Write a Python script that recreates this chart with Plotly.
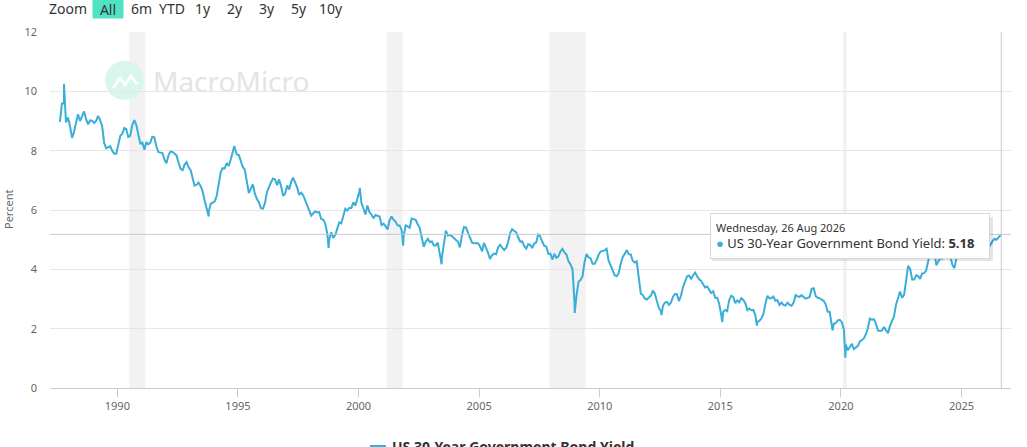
import pandas as pd
import plotly.graph_objects as go

series_name = 'US 30-Year Government Bond Yield'
line_color = '#3aaed8'

# monthly yields (%), mid-month, starting Aug 1987
yields_1980s = [8.97, 9.59, 9.61, 8.95, 9.12,
                8.83, 8.43, 8.63, 8.95, 9.23, 9.00, 9.14, 9.32, 9.06, 8.89, 9.02, 9.01,
                8.93, 9.01, 9.17, 9.03, 8.83, 8.27, 8.08, 8.12, 8.15, 8.00, 7.90, 7.90]
yields_1990s = [8.26, 8.50, 8.56, 8.76, 8.73, 8.46, 8.50, 8.86, 9.03, 8.86, 8.54, 8.24,
                8.27, 8.03, 8.29, 8.21, 8.27, 8.47, 8.45, 8.14, 7.95, 7.93, 7.92, 7.70,
                7.58, 7.85, 7.97, 7.96, 7.89, 7.84, 7.60, 7.39, 7.34, 7.53, 7.61, 7.44,
                7.34, 7.09, 6.82, 6.85, 6.92, 6.81, 6.63, 6.32, 6.00, 5.94, 6.21, 6.25,
                6.29, 6.49, 6.91, 7.27, 7.41, 7.40, 7.58, 7.49, 7.71, 7.94, 8.08, 7.87,
                7.85, 7.61, 7.45, 7.36, 6.95, 6.57, 6.72, 6.86, 6.55, 6.37, 6.26, 6.06,
                6.05, 6.24, 6.60, 6.79, 6.93, 7.06, 7.03, 6.84, 7.03, 6.81, 6.48, 6.55,
                6.83, 6.69, 6.93, 7.09, 6.94, 6.77, 6.51, 6.58, 6.50, 6.33, 6.11, 5.99,
                5.81, 5.89, 5.95, 5.92, 5.93, 5.70, 5.68, 5.54, 5.20, 5.01, 5.25, 5.06,
                5.16, 5.37, 5.58, 5.55, 5.81, 6.04, 5.98, 6.07, 6.07, 6.26, 6.15, 6.35]
yields_2000s = [6.63, 6.23, 6.05, 5.85, 6.15, 5.93, 5.85, 5.72, 5.83, 5.80, 5.78, 5.49,
                5.54, 5.45, 5.34, 5.65, 5.78, 5.67, 5.61, 5.48, 5.48, 5.32, 5.12, 5.48,
                5.45, 5.40, 5.71, 5.68, 5.67, 5.52, 5.40, 5.08, 4.76, 4.93, 5.03, 4.92,
                4.94, 4.81, 4.80, 4.90, 4.53, 4.37, 4.93, 5.30, 5.14, 5.16, 5.12, 5.07,
                4.99, 4.93, 4.74, 5.14, 5.42, 5.41, 5.22, 5.06, 4.90, 4.88, 4.89, 4.88,
                4.77, 4.61, 4.89, 4.75, 4.56, 4.35, 4.48, 4.53, 4.51, 4.74, 4.83, 4.73,
                4.65, 4.73, 4.91, 5.22, 5.35, 5.29, 5.25, 5.08, 4.93, 4.94, 4.78, 4.70,
                4.85, 4.82, 4.72, 4.87, 4.90, 5.20, 5.11, 4.93, 4.79, 4.77, 4.52, 4.53,
                4.33, 4.52, 4.39, 4.44, 4.60, 4.69, 4.57, 4.50, 4.27, 4.17, 4.00, 2.87,
                3.13, 3.59, 3.64, 3.76, 4.23, 4.52, 4.41, 4.37, 4.19, 4.19, 4.31, 4.49]
yields_2010s = [4.60, 4.62, 4.64, 4.69, 4.29, 4.13, 3.99, 3.80, 3.77, 3.87, 4.19, 4.42,
                4.52, 4.65, 4.51, 4.50, 4.29, 4.23, 4.27, 3.65, 3.18, 3.13, 3.02, 2.98,
                3.03, 3.11, 3.28, 3.18, 2.93, 2.70, 2.59, 2.77, 2.88, 2.90, 2.80, 2.88,
                3.08, 3.17, 3.16, 2.93, 3.11, 3.40, 3.61, 3.76, 3.79, 3.68, 3.80, 3.89,
                3.77, 3.66, 3.62, 3.52, 3.39, 3.42, 3.33, 3.20, 3.26, 3.04, 3.04, 2.83,
                2.46, 2.57, 2.63, 2.59, 2.96, 3.11, 3.07, 2.86, 2.95, 2.89, 3.03, 2.97,
                2.86, 2.62, 2.68, 2.62, 2.63, 2.45, 2.23, 2.26, 2.35, 2.50, 2.86, 3.11,
                3.02, 3.03, 3.08, 2.94, 2.96, 2.80, 2.88, 2.80, 2.78, 2.88, 2.80, 2.77,
                2.88, 3.13, 3.09, 3.07, 3.13, 3.05, 3.01, 3.04, 3.07, 3.34, 3.36, 3.10,
                3.04, 3.02, 2.98, 2.94, 2.82, 2.57, 2.57, 2.12, 2.16, 2.19, 2.28, 2.30]
yields_2020s = [2.22, 1.97, 1.46, 1.27, 1.38, 1.49, 1.31, 1.36, 1.42, 1.57, 1.62, 1.67,
                1.82, 2.04, 2.34, 2.30, 2.32, 2.16, 1.94, 1.92, 1.94, 2.06, 1.94, 1.85,
                2.10, 2.25, 2.41, 2.81, 3.07, 3.25, 3.04, 3.14, 3.63, 4.12, 4.01, 3.66,
                3.66, 3.80, 3.77, 3.68, 3.86, 3.87, 3.96, 4.28, 4.47, 4.95, 4.66, 4.14,
                4.26, 4.38, 4.36, 4.66, 4.62, 4.44, 4.46, 4.15, 4.04, 4.38, 4.54, 4.58,
                4.85, 4.68, 4.60, 4.77, 4.94, 4.89, 4.93, 4.89, 4.70, 4.62, 4.66, 4.80,
                4.85, 4.72, 4.84, 4.95, 5.03, 5.00, 5.08]

# daily highs / lows
spike_dates = ['1987-10-16', '1993-10-15', '1994-11-07', '1998-10-05', '2000-01-20',
               '2001-11-07', '2003-06-13', '2008-12-18', '2012-07-24', '2015-01-30',
               '2016-07-08', '2019-08-28', '2020-03-09', '2023-10-19', '2026-08-26']
spike_values = [10.25, 5.78, 8.16, 4.72, 6.75,
                4.80, 4.17, 2.53, 2.46, 2.22,
                2.10, 1.94, 1.02, 5.10, 5.18]

recession_start = ['1990-07-01', '2001-03-01', '2007-12-01', '2020-02-01']
recession_end = ['1991-03-01', '2001-11-01', '2009-06-01', '2020-04-01']

zoom_labels = ['6m', 'YTD', '1y', '2y', '3y', '5y', '10y']
last_date = '2026-08-26'
last_value = 5.18

monthly = yields_1980s + yields_1990s + yields_2000s + yields_2010s + yields_2020s
mdates = pd.date_range('1987-08-01', periods=len(monthly), freq='MS') + pd.Timedelta(days=14)
df = pd.concat([pd.DataFrame({'date': mdates, 'y': monthly}),
                pd.DataFrame({'date': pd.to_datetime(spike_dates), 'y': spike_values})])
df = df.sort_values('date')

FONT = 'Noto Sans, Open Sans, sans-serif'
L, R, T, B = 50, 16, 32, 59
W, H = 1027, 447
pw, ph = W - L - R, H - T - B


def px(x):
    return (x - L) / pw


def py(y):
    return (H - B - y) / ph


fig = go.Figure()
fig.add_trace(go.Scatter(x=df['date'], y=df['y'], mode='lines', name=series_name,
                         line=dict(color=line_color, width=2), showlegend=False))

shapes = []
for s, e in zip(recession_start, recession_end):
    shapes.append(dict(type='rect', xref='x', yref='paper', x0=s, x1=e, y0=0, y1=1,
                       fillcolor='#f2f2f2', line_width=0, layer='below'))
# crosshair
shapes.append(dict(type='line', xref='paper', yref='y', x0=0, x1=1, y0=last_value, y1=last_value,
                   line=dict(color='#c8c8c8', width=1)))
shapes.append(dict(type='line', xref='x', yref='paper', x0=last_date, x1=last_date, y0=0, y1=1,
                   line=dict(color='#c8c8c8', width=1)))
# watermark circle
shapes.append(dict(type='circle', xref='paper', yref='paper', x0=px(105), x1=px(144), y0=py(100), y1=py(61),
                   fillcolor='#d8f6ed', line_width=0, layer='below'))
shapes.append(dict(type='path', xref='paper', yref='paper', layer='below',
                   path='M %f %f L %f %f L %f %f L %f %f L %f %f' % (px(113), py(88), px(120), py(78), px(125), py(85),
                                                                 px(131), py(76), px(137), py(84)),
                   line=dict(color='white', width=2.5)))
# tooltip shadow
shapes.append(dict(type='rect', xref='paper', yref='paper', x0=px(712), x1=px(993), y0=py(261), y1=py(217),
                   fillcolor='rgba(0,0,0,0.10)', line_width=0, layer='above'))
# legend symbol (drawn by hand so it does not push the margins)
shapes.append(dict(type='line', xref='paper', yref='paper', x0=px(370), x1=px(386), y0=py(446), y1=py(446),
                   line=dict(color=line_color, width=2)))

annotations = [
    dict(text='MacroMicro', xref='paper', yref='paper', x=px(151), y=py(81), xanchor='left', yanchor='middle',
         showarrow=False, font=dict(family=FONT, size=28, color='#e4e4e4')),
    dict(text='Zoom', xref='paper', yref='paper', x=px(68), y=py(9), xanchor='center', yanchor='middle',
         showarrow=False, font=dict(family=FONT, size=14, color='#333333')),
    dict(text='All', xref='paper', yref='paper', x=px(108), y=py(9), xanchor='center', yanchor='middle',
         showarrow=False, font=dict(family=FONT, size=14, color='#333333'), bgcolor='#50e3c2',
         width=30, height=18, borderpad=0),
    dict(text='Percent', xref='paper', yref='paper', x=px(8), y=py(210), xanchor='center', yanchor='middle',
         textangle=-90, showarrow=False, font=dict(family=FONT, size=11, color='#666666')),
    dict(text='<span style="font-size:11px">Wednesday, 26 Aug 2026</span><br>'
              '<span style="color:' + line_color + '">●</span> ' + series_name + ': <b>5.18</b>',
         xref='paper', yref='paper', x=px(850), y=py(236), xanchor='center', yanchor='middle', align='left',
         showarrow=False, font=dict(family=FONT, size=13, color='#333333'),
         bgcolor='white', bordercolor='#d9d9d9', borderwidth=1, borderpad=5, width=268, height=34),
    dict(text='<b>' + series_name + '</b>', xref='paper', yref='paper', x=px(390), y=py(446),
         xanchor='left', yanchor='middle', showarrow=False, font=dict(family=FONT, size=14, color='#333333')),
]
zoom_x = [141, 171.5, 203, 235, 267, 299, 331]
for lab, zx in zip(zoom_labels, zoom_x):
    annotations.append(dict(text=lab, xref='paper', yref='paper', x=px(zx), y=py(9), xanchor='center',
                            yanchor='middle', showarrow=False, font=dict(family=FONT, size=14, color='#333333')))

fig.update_layout(
    width=W, height=H, margin=dict(l=L, r=R, t=T, b=B, autoexpand=False),
    plot_bgcolor='white', paper_bgcolor='white',
    font=dict(family=FONT, size=11, color='#666666'),
    shapes=shapes, annotations=annotations,
    showlegend=False,
    hovermode='x',
)
fig.update_xaxes(range=['1987-03-18', '2027-01-20'], showgrid=False, showline=True, linecolor='#cccccc',
                 ticks='outside', ticklen=8, tickcolor='#cccccc', dtick='M60', tick0='1990-01-01',
                 tickformat='%Y', tickfont=dict(size=11, color='#666666'), zeroline=False, automargin=False)
fig.update_yaxes(range=[0, 12], dtick=2, showgrid=True, gridcolor='#e6e6e6', zeroline=False,
                 showline=False, ticks='', ticklabelstandoff=12, tickfont=dict(size=11, color='#666666'),
                 automargin=False)

# page margin off so the chart sits at the top-left corner like the reference
fig.write_html('out.html', config={'displayModeBar': False},
               post_script="document.body.style.margin='0';document.body.style.overflow='hidden';")
